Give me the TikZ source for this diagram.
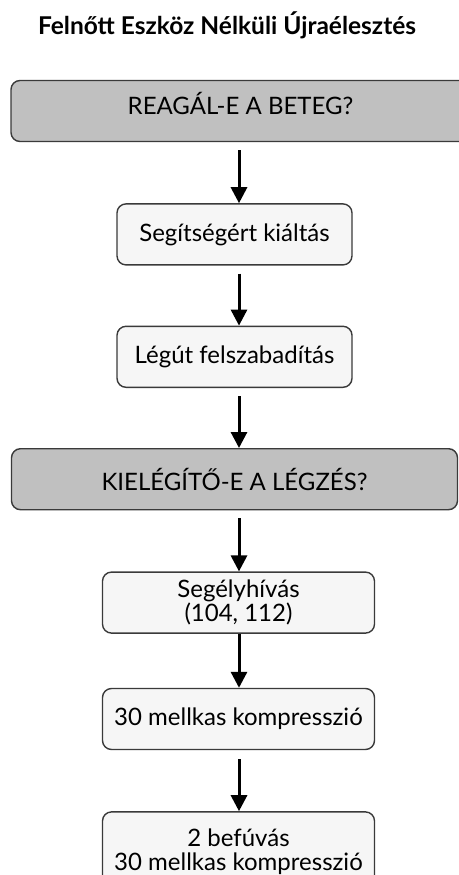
\documentclass[tikz,border=0pt]{standalone}
\usepackage{fontspec}
\setmainfont{Lato}
\usetikzlibrary{arrows.meta,positioning}
\definecolor{askgray}{RGB}{192,192,192}
\definecolor{stepfill}{RGB}{246,246,246}
\definecolor{edgegray}{RGB}{58,58,58}

\begin{document}
\begin{tikzpicture}[
  x=1pt, y=1pt,
  node distance=60pt,
  box/.style={draw=edgegray, line width=1.4pt, rounded corners=9pt, minimum height=61pt, align=center, inner sep=0pt, font=\fontsize{24}{24}\selectfont},
  question/.style={box, fill=askgray},
  action/.style={box, fill=stepfill, minimum width=235pt},
  flow/.style={-{Triangle[length=16pt,width=16pt]}, line width=3pt}
]
\useasboundingbox (0,0) rectangle (458,-875);
\coordinate (axis) at (239,0);
\node[font=\bfseries\fontsize{24.5}{26}\selectfont] (title) at (227,-25) {Felnőtt Eszköz Nélküli Újraélesztés};
\node[question, minimum width=459pt] (react) at (240.5,-111) {\raisebox{8pt}[\height][\depth]{REAGÁL-E A BETEG?}};
\node[action, below=61pt of react, xshift=-6pt] (help) {Segítségért kiáltás};
\node[action, below=of help] (airway) {Légút felszabadítás};
\node[question, minimum width=446pt, below=of airway] (breath) {KIELÉGÍTŐ-E A LÉGZÉS?};
\node[action, minimum width=272pt, below=61pt of breath, xshift=4pt] (call) {Segélyhívás\\(104, 112)};
\node[action, minimum width=272pt, below=54pt of call] (compress) {30 mellkas kompresszió};
\node[action, minimum width=272pt, minimum height=80pt, below=61pt of compress] (cycle) {2 befúvás\\30 mellkas kompresszió};

\foreach \a/\b/\g in {react/help/8, help/airway/8, airway/breath/8, breath/call/8, call/compress/0, compress/cycle/9}
  \draw[flow, shorten <=\g pt] (\a.south -| axis) -- (\b.north -| axis);
\end{tikzpicture}
\end{document}
